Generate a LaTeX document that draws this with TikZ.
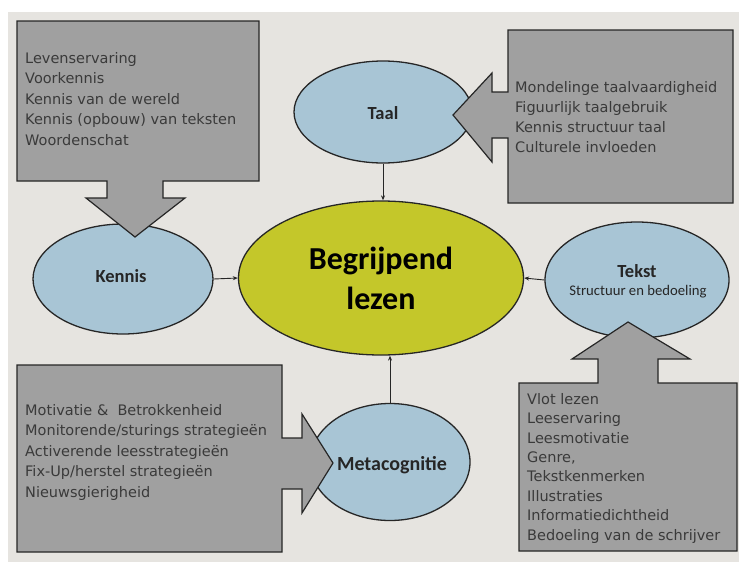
\documentclass[tikz,border=0pt]{standalone}
\usepackage{fontspec}
\setmainfont{Carlito}
\newfontfamily\listfont{DejaVu Sans}
\usetikzlibrary{shapes.geometric,arrows.meta}
\definecolor{pagegray}{HTML}{E6E4E0}
\definecolor{boxgray}{HTML}{A0A0A0}
\definecolor{bubbleblue}{HTML}{A8C5D5}
\definecolor{coreyellow}{HTML}{C4C72A}
\definecolor{inkdark}{HTML}{262626}
\definecolor{listink}{HTML}{3A3A3A}
\begin{document}
\begin{tikzpicture}
[x=1pt,y=-1pt,
 bubbledecorate/.style={shape=ellipse,draw=inkdark,line width=1.3pt,
   fill=bubbleblue,inner sep=0pt},
 coredecorate/.style={bubbledecorate,fill=coreyellow,align=center,
   font=\bfseries\fontsize{32}{40}\selectfont},
 labeldecorate/.style={inner sep=0pt,text=inkdark,font=\bfseries\fontsize{18.5}{20}\selectfont},
 calloutdecorate/.style={draw=inkdark,line width=1.2pt,fill=boxgray,line join=miter},
 listdecorate/.style={anchor=north west,inner sep=0pt,align=left,text=listink,
   font=\listfont\fontsize{14.5}{20.5}\selectfont},
 linkdecorate/.style={-{Stealth[length=5pt,width=4pt]},line width=0.9pt,draw=inkdark}]
%% page
\fill[white] (0,0) rectangle (739,562);
\fill[pagegray] (8,12) rectangle (739,562);
%% ellipses
\foreach \nodename/\x/\y/\w/\h in {kennis/123/279/180/110, taal/383/112/178/102,
  tekst/637/280/184/116, meta/390/462/160/117}
{
  \node (\nodename) at (\x,\y) [bubbledecorate,minimum width=\w pt,minimum height=\h pt] {};
}
\node (lezen) at (381,278) [coredecorate,minimum width=285pt,minimum height=154pt]
  {Begrijpend\\lezen};
%% ellipse labels
\foreach \labelname/\x/\y/\txt in {kennislabel/121/276/Kennis, taallabel/383/113/Taal,
  tekstlabel/637/271/Tekst}
{
  \node (\labelname) at (\x,\y) [labeldecorate] {\txt};
}
\node (metalabel) at (392,465) [labeldecorate,font=\bfseries\fontsize{20}{22}\selectfont] {Metacognitie};
\node (tekstsub) at (638,292) [labeldecorate,font=\fontsize{14.7}{16}\selectfont] {Structuur en bedoeling};
%% links
\path
\foreach \startnode/\endnode in {kennis.east/lezen.west, tekst.west/lezen.east,
  taal.south/taal.south |- lezen.north, meta.north/meta.north |- lezen.south} {
  (\startnode) edge[linkdecorate] (\endnode)
};
%% callouts
\draw[calloutdecorate] (17,21) -- (259,21) -- (259,181) -- (163,181) -- (163,198)
  -- (185,198) -- (135,237) -- (86,198) -- (107,198) -- (107,181) -- (17,181) -- cycle;
\draw[calloutdecorate] (508,30) -- (733,30) -- (733,203) -- (508,203) -- (508,138)
  -- (492,138) -- (492,162) -- (453,115) -- (492,73) -- (492,92) -- (508,92) -- cycle;
\draw[calloutdecorate] (17,365) -- (282,365) -- (282,438) -- (302,438) -- (302,414)
  -- (333,463) -- (302,513) -- (302,489) -- (282,489) -- (282,552) -- (17,552) -- cycle;
\draw[calloutdecorate] (519,383) -- (598,383) -- (598,359) -- (572,359) -- (628,322)
  -- (690,359) -- (658,359) -- (658,383) -- (737,383) -- (737,551) -- (519,551) -- cycle;
%% lists
\node (kennislist) at (25,52) [listdecorate] {Levenservaring\\Voorkennis\\Kennis van de wereld\\
  Kennis (opbouw) van teksten\\Woordenschat};
\node (taallist) at (515,81) [listdecorate,font=\listfont\fontsize{14.5}{20}\selectfont]
  {Mondelinge taalvaardigheid\\Figuurlijk taalgebruik\\
  Kennis structuur taal\\Culturele invloeden};
\node (metalist) at (25,404) [listdecorate] {Motivatie \&\ \ Betrokkenheid\\
  Monitorende/sturings strategieën\\Activerende leesstrategieën\\Fix-Up/herstel strategieën\\
  Nieuwsgierigheid};
\node (tekstlist) at (527,393) [listdecorate,font=\listfont\fontsize{14.5}{19.4}\selectfont]
  {Vlot lezen\\Leeservaring\\Leesmotivatie\\Genre,\\Tekstkenmerken\\Illustraties\\
  Informatiedichtheid\\Bedoeling van de schrijver};
\end{tikzpicture}
\end{document}
